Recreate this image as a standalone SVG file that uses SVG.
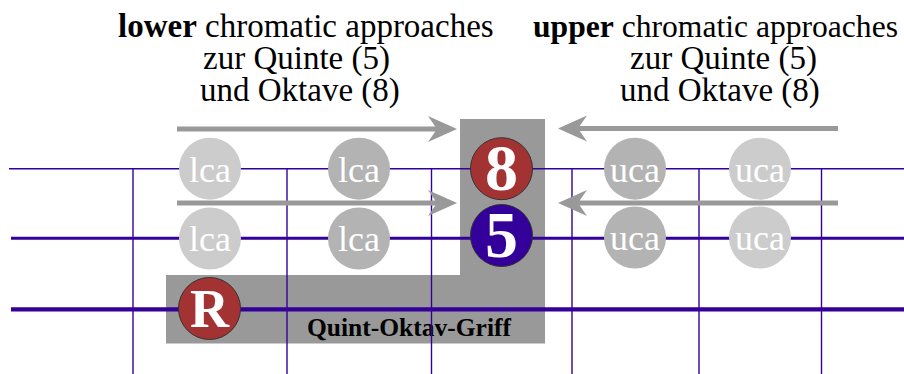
<svg xmlns="http://www.w3.org/2000/svg" width="904" height="374" viewBox="0 0 904 374">
  <style>
    .str { stroke: #330099; fill: none; }
    .fret { stroke: #330099; stroke-width: 1.4; fill: none; }
    .ap1 { fill: #cccccc; }
    .ap2 { fill: #b3b3b3; }
    .apt { font-family: "Liberation Serif", "Times New Roman", serif; font-size: 36px; fill: #ffffff; text-anchor: middle; }
    .big { font-family: "Liberation Serif", "Times New Roman", serif; font-weight: bold; fill: #ffffff; text-anchor: middle; }
    .dot { stroke: #333333; stroke-width: 1; }
    .lbl { font-family: "Liberation Serif", "Times New Roman", serif; font-size: 33px; fill: #000000; }
    .arr { stroke: #999999; stroke-width: 5; fill: none; }
    .head { fill: #999999; stroke: none; }
  </style>

  <g id="labels">
    <text class="lbl" x="118" y="37"><tspan font-weight="bold">lower</tspan> chromatic approaches</text>
    <text class="lbl" x="203" y="69">zur Quinte (5)</text>
    <text class="lbl" x="200" y="101">und Oktave (8)</text>
    <text class="lbl" x="533" y="37" style="font-size:31.6px"><tspan font-weight="bold">upper</tspan> chromatic approaches</text>
    <text class="lbl" x="630" y="69">zur Quinte (5)</text>
    <text class="lbl" x="620" y="101">und Oktave (8)</text>
  </g>

  <g id="grip">
    <polygon points="460,119 545,119 545,343.5 166,343.5 166,275 460,275" fill="#999999"/>
    <text x="307" y="336" font-family="Liberation Serif, Times New Roman, serif" font-weight="bold" font-size="25.5" fill="#000000">Quint-Oktav-Griff</text>
  </g>

  <g id="fretboard">
    <line class="str" x1="9" y1="168.7" x2="904" y2="168.7" stroke-width="1.4"/>
    <line class="str" x1="11" y1="238.3" x2="904" y2="238.3" stroke-width="3"/>
    <line class="str" x1="11" y1="309.3" x2="904" y2="309.3" stroke-width="4.3"/>
    <line class="fret" x1="133" y1="168" x2="133" y2="374"/>
    <line class="fret" x1="287" y1="168" x2="287" y2="374"/>
    <line class="fret" x1="431.5" y1="168" x2="431.5" y2="374"/>
    <line class="fret" x1="572" y1="168" x2="572" y2="374"/>
    <line class="fret" x1="699" y1="168" x2="699" y2="374"/>
    <line class="fret" x1="821.5" y1="168" x2="821.5" y2="374"/>
  </g>

  <g id="lca-1-top"><circle class="ap1" cx="210" cy="168.7" r="31"/><text class="apt" x="210" y="182">lca</text></g>
  <g id="lca-1-bottom"><circle class="ap1" cx="210" cy="238.5" r="31"/><text class="apt" x="210" y="251">lca</text></g>
  <g id="lca-2-top"><circle class="ap2" cx="359" cy="168.7" r="31"/><text class="apt" x="359" y="182">lca</text></g>
  <g id="lca-2-bottom"><circle class="ap2" cx="359" cy="238.5" r="31"/><text class="apt" x="359" y="251">lca</text></g>
  <g id="uca-1-top"><circle class="ap2" cx="635" cy="168.7" r="31"/><text class="apt" x="635" y="182">uca</text></g>
  <g id="uca-1-bottom"><circle class="ap2" cx="635" cy="237.5" r="31"/><text class="apt" x="635" y="250">uca</text></g>
  <g id="uca-2-top"><circle class="ap1" cx="760" cy="168.7" r="31"/><text class="apt" x="760" y="182">uca</text></g>
  <g id="uca-2-bottom"><circle class="ap1" cx="760" cy="237.5" r="31"/><text class="apt" x="760" y="250">uca</text></g>

  <g id="octave"><circle class="dot" cx="501.5" cy="168.7" r="31" fill="#a33333"/><text class="big" x="501.5" y="190" font-size="66">8</text></g>
  <g id="fifth"><circle class="dot" cx="501.5" cy="235.5" r="31" fill="#330099"/><text class="big" x="501.5" y="256.5" font-size="66">5</text></g>
  <g id="root"><circle class="dot" cx="209.5" cy="308.5" r="31" fill="#a33333"/><text class="big" x="209.5" y="327" font-size="54">R</text></g>

  <g id="connectors">
    <line class="arr" x1="177" y1="129" x2="438" y2="129"/>
    <polygon class="head" points="457,129 428,116 437,129 428,142"/>
    <line class="arr" x1="177" y1="203" x2="438" y2="203"/>
    <polygon class="head" points="457,203 428,190 437,203 428,216"/>
    <line class="arr" x1="838" y1="128.5" x2="578" y2="128.5"/>
    <polygon class="head" points="558,128.5 587,115.5 578,128.5 587,141.5"/>
    <line class="arr" x1="838" y1="203" x2="578" y2="203"/>
    <polygon class="head" points="558,203 587,190 578,203 587,216"/>
  </g>
</svg>
